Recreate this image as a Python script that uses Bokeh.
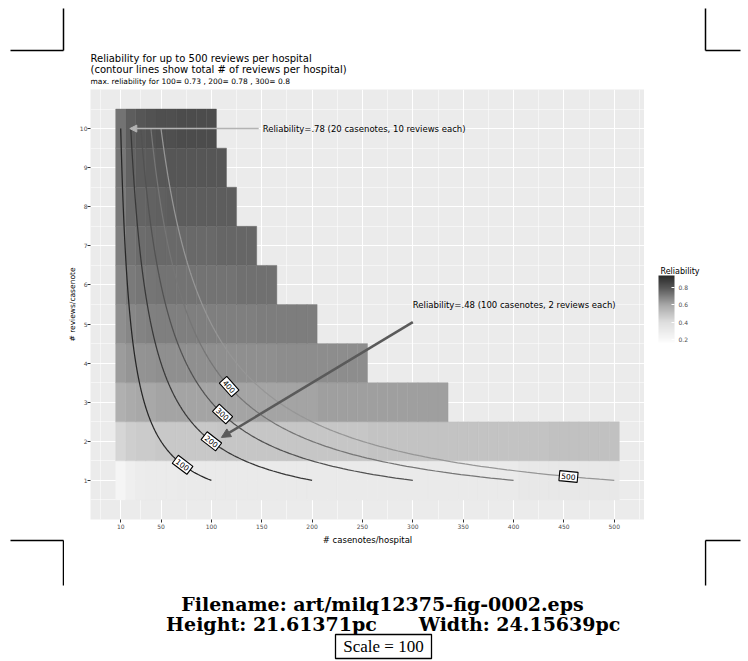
import numpy as np
from bokeh.plotting import figure
from bokeh.layouts import row, column
from bokeh.models import (ColumnDataSource, LinearColorMapper, ColorBar, FixedTicker,
                          Arrow, NormalHead, Range1d)
from bokeh.embed import file_html
from bokeh.resources import INLINE
from bokeh.core.properties import value

# ---------------- data ----------------
reviews_per_casenote = [1, 2, 3, 4, 5, 6, 7, 8, 9, 10]
casenote_step = 10  # casenotes: 10, 20, 30, ...

rel_r1 = [0.22, 0.27, 0.29, 0.30, 0.30, 0.30, 0.31, 0.31, 0.31, 0.31,
          0.31, 0.31, 0.31, 0.31, 0.31, 0.31, 0.31, 0.31, 0.31, 0.31,
          0.31, 0.31, 0.31, 0.31, 0.31, 0.31, 0.31, 0.31, 0.31, 0.31,
          0.31, 0.31, 0.31, 0.31, 0.31, 0.31, 0.31, 0.31, 0.31, 0.31,
          0.32, 0.32, 0.32, 0.32, 0.32, 0.32, 0.32, 0.32, 0.32, 0.32]
rel_r2 = [0.43, 0.46, 0.47, 0.47, 0.48, 0.48, 0.48, 0.48, 0.48, 0.48,
          0.49, 0.49, 0.49, 0.49, 0.49, 0.49, 0.49, 0.49, 0.49, 0.49,
          0.49, 0.49, 0.49, 0.49, 0.49, 0.50, 0.50, 0.50, 0.50, 0.50,
          0.50, 0.50, 0.50, 0.50, 0.50, 0.50, 0.50, 0.50, 0.50, 0.50,
          0.50, 0.50, 0.50, 0.51, 0.51, 0.51, 0.51, 0.51, 0.51, 0.51]
rel_r3 = [0.57, 0.59, 0.60, 0.60, 0.61, 0.61, 0.61, 0.61, 0.61, 0.61,
          0.61, 0.61, 0.61, 0.61, 0.61, 0.61, 0.61, 0.61, 0.61, 0.61,
          0.62, 0.62, 0.62, 0.62, 0.62, 0.62, 0.62, 0.62, 0.62, 0.62,
          0.62, 0.62, 0.62]
rel_r4 = [0.63, 0.645, 0.65, 0.655, 0.66, 0.66, 0.66, 0.66, 0.66, 0.66,
          0.66, 0.66, 0.66, 0.66, 0.66, 0.66, 0.665, 0.665, 0.665, 0.665,
          0.665, 0.665, 0.665, 0.665, 0.665]
rel_r5 = [0.66, 0.68, 0.69, 0.695, 0.70, 0.70, 0.70, 0.70, 0.70, 0.70,
          0.70, 0.70, 0.70, 0.70, 0.705, 0.705, 0.705, 0.705, 0.705, 0.705]
rel_r6 = [0.68, 0.71, 0.72, 0.725, 0.73, 0.73, 0.73, 0.73, 0.73, 0.73,
          0.73, 0.73, 0.735, 0.735, 0.735, 0.735]
rel_r7 = [0.70, 0.73, 0.745, 0.75, 0.755, 0.755, 0.755, 0.755, 0.755, 0.755,
          0.76, 0.76, 0.76, 0.76]
rel_r8 = [0.71, 0.75, 0.765, 0.77, 0.775, 0.78, 0.78, 0.78, 0.78, 0.78,
          0.78, 0.78]
rel_r9 = [0.72, 0.77, 0.785, 0.79, 0.795, 0.80, 0.80, 0.80, 0.80, 0.80, 0.80]
rel_r10 = [0.73, 0.78, 0.80, 0.81, 0.82, 0.82, 0.83, 0.83, 0.83, 0.83]
rel_rows = [rel_r1, rel_r2, rel_r3, rel_r4, rel_r5, rel_r6, rel_r7, rel_r8, rel_r9, rel_r10]

x_ticks = [10, 50, 100, 150, 200, 250, 300, 350, 400, 450, 500]
y_ticks = [1, 2, 3, 4, 5, 6, 7, 8, 9, 10]
contour_levels = [100, 200, 300, 400, 500]
contour_label_r = [1.4, 2.0, 2.7, 3.4, 1.1]
contour_colors = ["#262626", "#383838", "#525252", "#767676", "#969696"]
legend_ticks = [0.2, 0.4, 0.6, 0.8]
rel_low, rel_high = 0.165, 0.94
pal_anchor_rel = [0.165, 0.40, 0.60, 0.80, 0.94]
pal_anchor_gray = [252, 222, 168, 86, 40]

ann1_text = "Reliability=.78 (20 casenotes, 10 reviews each)"
ann1_xy = (151, 10.0)
ann1_from, ann1_to = (147, 10.0), (19, 10.0)
ann2_text = "Reliability=.48 (100 casenotes, 2 reviews each)"
ann2_xy = (300, 5.5)
ann2_from, ann2_to = (300, 5.05), (110, 2.1)

title_lines = ["Reliability for up to 500 reviews per hospital",
               "(contour lines show total # of reviews per hospital)"]
subtitle = "max. reliability for 100= 0.73 , 200= 0.78 , 300= 0.8"
file_line = "Filename: art/milq12375-fig-0002.eps"
height_text = "Height: 21.61371pc"
width_text = "Width: 24.15639pc"
scale_text = "Scale = 100"

# ---------------- page layout (page pixels, no body margin) ----------------
PAGE_W, PAGE_H = 748, 661
TOP_H = 86                 # strip with crop marks + titles
MID_BOTTOM = 560           # bottom of chart strip
L_W = 64                   # left strip
B_RIGHT = 644              # right edge of plot panel
LEG_RIGHT = 704            # right edge of legend strip
FRAME_L, FRAME_T, FRAME_W, FRAME_H = 89, 89, 555, 430


def deco_fig(x0, x1, y0, y1):
    f = figure(width=x1 - x0, height=y1 - y0,
               x_range=Range1d(x0, x1), y_range=Range1d(y1, y0),
               x_axis_type=None, y_axis_type=None, min_border=0,
               toolbar_location=None, output_backend="svg")
    f.outline_line_color = None
    f.background_fill_color = "white"
    f.border_fill_color = "white"
    return f


def crop(f, segs):
    f.segment(x0=[s[0][0] for s in segs], y0=[s[0][1] for s in segs],
              x1=[s[1][0] for s in segs], y1=[s[1][1] for s in segs],
              line_color="black", line_width=1.5)


# ---------------- top strip ----------------
top = deco_fig(0, PAGE_W, 0, TOP_H)
crop(top, [((63, 8), (63, 50)), ((10, 50), (63, 50)),
           ((705, 8), (705, 50)), ((705, 50), (740, 50))])
top.text(x=[90, 90], y=[58, 69], text=title_lines, text_font=value("DejaVu Sans"),
         text_font_size="10px", text_baseline="middle", text_align="left", text_color="black")
top.text(x=[90], y=[81], text=[subtitle], text_font=value("DejaVu Sans"),
         text_font_size="7.5px", text_baseline="middle", text_align="left", text_color="black")

# ---------------- side strips ----------------
left = deco_fig(0, L_W, TOP_H, PAGE_H)
crop(left, [((10, 540), (63, 540)), ((63, 540), (63, 585))])
right = deco_fig(LEG_RIGHT, PAGE_W, TOP_H, PAGE_H)
crop(right, [((705, 540), (740, 540)), ((705, 540), (705, 585))])

# ---------------- main chart ----------------
grays = np.interp(np.linspace(rel_low, rel_high, 256), pal_anchor_rel, pal_anchor_gray)
palette = []
for g in grays:
    gi = int(round(g))
    palette.append("#%02x%02x%02x" % (gi, gi, gi))
mapper = LinearColorMapper(palette=palette, low=rel_low, high=rel_high)

tn, tr, tv = [], [], []
for r, rowvals in zip(reviews_per_casenote, rel_rows):
    for i, v in enumerate(rowvals):
        tn.append(casenote_step * (i + 1))
        tr.append(r)
        tv.append(v)
tiles = ColumnDataSource(dict(n=tn, r=tr, rel=tv))

p = figure(width=B_RIGHT - L_W, height=MID_BOTTOM - TOP_H, x_range=(-20, 530), y_range=(0, 11),
           output_backend="svg", toolbar_location=None,
           min_border_left=FRAME_L - L_W, min_border_top=FRAME_T - TOP_H,
           min_border_right=0, min_border_bottom=MID_BOTTOM - (FRAME_T + FRAME_H))
p.background_fill_color = "#ebebeb"
p.border_fill_color = "white"
p.outline_line_color = None

x_minor = ([x_ticks[0] - (x_ticks[1] - x_ticks[0]) / 2]
           + [(a + b) / 2 for a, b in zip(x_ticks[:-1], x_ticks[1:])]
           + [x_ticks[-1] + (x_ticks[-1] - x_ticks[-2]) / 2])
y_minor = [t - 0.5 for t in y_ticks] + [y_ticks[-1] + 0.5]
p.xgrid.ticker = FixedTicker(ticks=x_ticks, minor_ticks=x_minor)
p.ygrid.ticker = FixedTicker(ticks=y_ticks, minor_ticks=y_minor)
for g in (p.xgrid, p.ygrid):
    g.grid_line_color = "white"
    g.grid_line_width = 1.1
    g.minor_grid_line_color = "white"
    g.minor_grid_line_width = 0.5

p.xaxis.ticker = FixedTicker(ticks=x_ticks)
p.yaxis.ticker = FixedTicker(ticks=y_ticks)
for ax in (p.xaxis, p.yaxis):
    ax.axis_line_color = None
    ax.minor_tick_line_color = None
    ax.major_tick_in = 0
    ax.major_tick_out = 3
    ax.major_tick_line_color = "#333333"
    ax.major_label_text_font_size = "6px"
    ax.major_label_text_color = "#4d4d4d"
    ax.major_label_text_font = "DejaVu Sans"
    ax.axis_label_text_font = "DejaVu Sans"
    ax.axis_label_text_font_style = "normal"
    ax.axis_label_text_color = "black"
p.xaxis.axis_label = "# casenotes/hospital"
p.yaxis.axis_label = "# reviews/casenote"
p.xaxis.axis_label_text_font_size = "8.5px"
p.yaxis.axis_label_text_font_size = "7.5px"
p.xaxis.major_label_standoff = 1
p.yaxis.major_label_standoff = 0
p.xaxis.axis_label_standoff = 3
p.yaxis.axis_label_standoff = 0

p.rect(x="n", y="r", width=casenote_step, height=1, source=tiles,
       fill_color={"field": "rel", "transform": mapper},
       line_color={"field": "rel", "transform": mapper}, line_width=0.4)

# contour lines: total reviews n*r = level
rr = np.linspace(1, 10, 300)
for lev, col in zip(contour_levels, contour_colors):
    p.line(lev / rr, rr, line_color=col, line_width=1.25)

# contour labels along the curves
px_per_x = FRAME_W / 550.0
px_per_y = FRAME_H / 11.0
lab_n = [lev / r for lev, r in zip(contour_levels, contour_label_r)]
lab_ang = [-np.arctan(px_per_y * r * r / (lev * px_per_x))
           for lev, r in zip(contour_levels, contour_label_r)]
p.text(x=lab_n, y=contour_label_r, text=[str(l) for l in contour_levels], angle=lab_ang,
       text_align="center", text_baseline="middle", text_font=value("DejaVu Sans"),
       text_font_size="7.5px", text_color="black",
       background_fill_color="white", border_line_color="black", border_line_width=1.1,
       padding=2)

# annotations
p.add_layout(Arrow(end=NormalHead(size=7, fill_color="#b3b3b3", line_color="#b3b3b3"),
                   x_start=ann1_from[0], y_start=ann1_from[1], x_end=ann1_to[0], y_end=ann1_to[1],
                   line_color="#b3b3b3", line_width=1.5))
p.add_layout(Arrow(end=NormalHead(size=9, fill_color="#5a5a5a", line_color="#5a5a5a"),
                   x_start=ann2_from[0], y_start=ann2_from[1], x_end=ann2_to[0], y_end=ann2_to[1],
                   line_color="#5a5a5a", line_width=2.5))
p.text(x=[ann1_xy[0], ann2_xy[0]], y=[ann1_xy[1], ann2_xy[1]], text=[ann1_text, ann2_text],
       text_align="left", text_baseline="middle", text_font=value("DejaVu Sans"),
       text_font_size="8.5px", text_color="black")

# ---------------- legend strip (its frame is aligned with the chart frame) ----------------
leg = figure(width=LEG_RIGHT - B_RIGHT, height=MID_BOTTOM - TOP_H,
             x_range=Range1d(B_RIGHT, LEG_RIGHT), y_range=Range1d(FRAME_T + FRAME_H, FRAME_T),
             x_axis_type=None, y_axis_type=None, min_border=0,
             toolbar_location=None, output_backend="svg")
leg.outline_line_color = None
leg.background_fill_color = "white"
leg.border_fill_color = "white"
leg.text(x=[660], y=[271], text=["Reliability"], text_font=value("DejaVu Sans"),
         text_font_size="8px", text_baseline="middle", text_align="left", text_color="black")
cb = ColorBar(color_mapper=mapper, ticker=FixedTicker(ticks=legend_ticks), width=16, height=67,
              location=(658 - B_RIGHT, (FRAME_T + FRAME_H) - 342), padding=0, title=None,
              major_label_text_font="DejaVu Sans", major_label_text_font_size="6px",
              major_label_text_color="#4d4d4d", label_standoff=4,
              major_tick_line_color="white", major_tick_in=3, major_tick_out=0,
              minor_tick_line_color=None,
              bar_line_color=None, border_line_color=None, background_fill_alpha=0)
leg.add_layout(cb)

# ---------------- bottom strip ----------------
bot = deco_fig(L_W, LEG_RIGHT, MID_BOTTOM, PAGE_H)
bot.text(x=[382, 271, 519], y=[603, 623, 623], text=[file_line, height_text, width_text],
         text_font=value("DejaVu Serif"), text_font_style="bold", text_font_size="19px",
         text_align="center", text_baseline="middle", text_color="black")
bot.rect(x=[383], y=[646], width=96, height=24, fill_color="white", line_color="black",
         line_width=1.3)
bot.text(x=[383], y=[646], text=[scale_text], text_font=value("Liberation Serif"),
         text_font_size="17px", text_align="center", text_baseline="middle", text_color="black")

layout = column(top, row(left, column(row(p, leg), bot), right))
open("out.html", "w").write(file_html(layout, INLINE))
